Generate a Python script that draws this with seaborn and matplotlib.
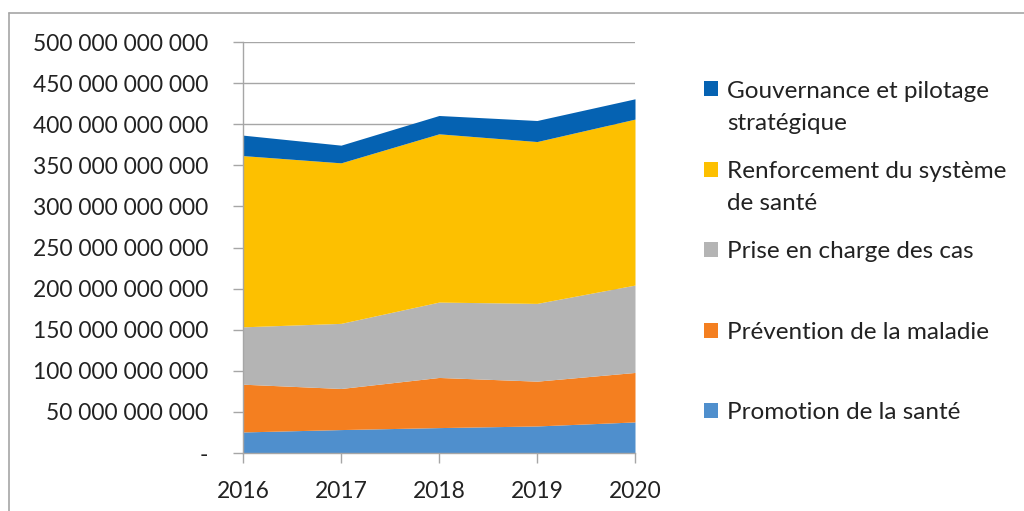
import numpy as np
import pandas as pd
import seaborn as sns
import matplotlib.pyplot as plt
from matplotlib.patches import Patch
from matplotlib.lines import Line2D
from matplotlib.ticker import FuncFormatter

years = [2016, 2017, 2018, 2019, 2020]
promotion = [25.6e9, 28.5e9, 30.9e9, 32.9e9, 37.8e9]
prevention = [58.1e9, 50.0e9, 61.0e9, 54.5e9, 60.2e9]
prise_en_charge = [69.8e9, 79.2e9, 91.7e9, 94.6e9, 106.3e9]
renforcement = [208.3e9, 195.3e9, 204.7e9, 196.9e9, 201.9e9]
gouvernance = [24.9e9, 21.5e9, 22.3e9, 25.6e9, 24.7e9]

labels = ['Promotion de la santé', 'Prévention de la maladie', 'Prise en charge des cas',
          'Renforcement du système de santé', 'Gouvernance et pilotage stratégique']
colors = ['#4f8fcd', '#f47f20', '#b4b4b4', '#fdc000', '#0562b2']

df = pd.DataFrame({'annee': years, labels[0]: promotion, labels[1]: prevention,
                   labels[2]: prise_en_charge, labels[3]: renforcement, labels[4]: gouvernance})

sns.set_style('white')
plt.rcParams['font.family'] = ['Lato', 'DejaVu Sans']
FS = 16.4
FS_LEG = 17.5
TXT = '#222222'

fig = plt.figure(figsize=(10.24, 5.11), dpi=100)
ax = fig.add_axes([243/1024, 1-453/511, (635-243)/1024, (453-42)/511])

ax.stackplot(df['annee'], [df[c] for c in labels], colors=colors, linewidth=0)

ax.set_xlim(2016, 2020)
ax.set_ylim(0, 500e9)
ax.set_xticks(years)
ax.set_yticks(np.arange(0, 500e9 + 1, 50e9))

def fmt(v, pos):
    if v == 0:
        return '-'
    return '{:,.0f}'.format(v).replace(',', ' ')

ax.yaxis.set_major_formatter(FuncFormatter(fmt))
ax.grid(axis='y', color='#a6a6a6', linewidth=1)
ax.set_axisbelow(True)
for s in ['top', 'right']:
    ax.spines[s].set_visible(False)
for s in ['left', 'bottom']:
    ax.spines[s].set_color('#a6a6a6')
    ax.spines[s].set_linewidth(1)
ax.tick_params(axis='both', direction='out', length=7, width=1, color='#a6a6a6',
               labelsize=FS, labelcolor=TXT, left=True, bottom=True)
ax.tick_params(axis='y', pad=18)
ax.tick_params(axis='x', pad=13)

# legende (premieres lignes), ordre inverse comme Excel
first_lines = ['Gouvernance et pilotage', 'Renforcement du système', 'Prise en charge des cas',
               'Prévention de la maladie', 'Promotion de la santé']
second_lines = ['stratégique', 'de santé', '', '', '']
handles = [Patch(facecolor=c, edgecolor='none') for c in colors[::-1]]
leg = fig.legend(handles, first_lines, loc='upper left', bbox_to_anchor=(704/1024, 1-80.5/511),
                 frameon=False, fontsize=FS_LEG, handlelength=0.58, handleheight=0.58,
                 handletextpad=0.38, labelspacing=2.445, borderpad=0, borderaxespad=0)
for t in leg.get_texts():
    t.set_color(TXT)

fig.canvas.draw()
inv = fig.transFigure.inverted()
for t, extra in zip(leg.get_texts(), second_lines):
    if extra:
        bb = t.get_window_extent()
        x0, y0 = inv.transform((bb.x0, bb.y0))
        fig.text(x0, y0 - 32.5/511, extra, fontsize=FS_LEG, color=TXT, va='bottom', ha='left')

# cadre du graphique
fig.add_artist(Line2D([9/1024, 9/1024], [0, 1-13/511], color='#a6a6a6', linewidth=1.2))
fig.add_artist(Line2D([9/1024, 1], [1-13/511, 1-13/511], color='#a6a6a6', linewidth=1.2))

fig.savefig('out.png', dpi=100)
